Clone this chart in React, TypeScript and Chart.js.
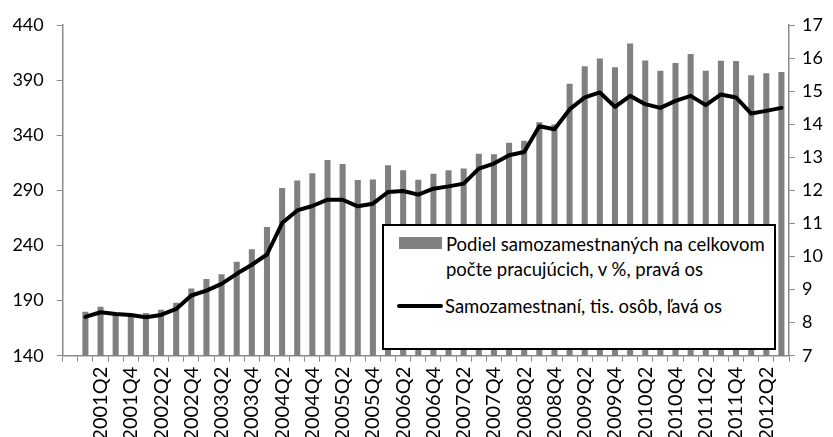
import React, { useEffect, useRef } from "react";
import { Chart, registerables } from "chart.js";

Chart.register(...registerables);

const categories = [
  "",
  "2001Q1", "2001Q2", "2001Q3", "2001Q4",
  "2002Q1", "2002Q2", "2002Q3", "2002Q4",
  "2003Q1", "2003Q2", "2003Q3", "2003Q4",
  "2004Q1", "2004Q2", "2004Q3", "2004Q4",
  "2005Q1", "2005Q2", "2005Q3", "2005Q4",
  "2006Q1", "2006Q2", "2006Q3", "2006Q4",
  "2007Q1", "2007Q2", "2007Q3", "2007Q4",
  "2008Q1", "2008Q2", "2008Q3", "2008Q4",
  "2009Q1", "2009Q2", "2009Q3", "2009Q4",
  "2010Q1", "2010Q2", "2010Q3", "2010Q4",
  "2011Q1", "2011Q2", "2011Q3", "2011Q4",
  "2012Q1", "2012Q2", "2012Q3",
];

// Podiel samozamestnaných na celkovom počte pracujúcich, v % (pravá os)
const shareOfEmployed = [
  null,
  8.33, 8.48, 8.27, 8.26,
  8.29, 8.39, 8.6, 9.03,
  9.32, 9.46, 9.84, 10.22,
  10.89, 12.07, 12.3, 12.52,
  12.92, 12.8, 12.31, 12.33,
  12.76, 12.61, 12.32, 12.5,
  12.61, 12.66, 13.11, 13.09,
  13.44, 13.5, 14.06, 13.99,
  15.22, 15.75, 15.99, 15.72,
  16.44, 15.93, 15.62, 15.85,
  16.12, 15.62, 15.92, 15.91,
  15.48, 15.54, 15.58,
];

// Samozamestnaní, tis. osôb (ľavá os)
const selfEmployed = [
  null,
  175.2, 179.4, 177.9, 177.0,
  174.9, 177.0, 182.4, 194.6,
  199.1, 205.2, 214.3, 222.5,
  231.8, 260.3, 271.8, 275.8,
  281.5, 281.5, 275.5, 277.9,
  288.5, 289.4, 286.1, 291.5,
  293.6, 296.1, 309.7, 314.3,
  321.8, 324.8, 348.2, 345.5,
  363.4, 374.3, 378.8, 365.7,
  375.7, 368.2, 364.8, 371.2,
  375.7, 367.3, 377.0, 374.3,
  359.7, 362.1, 364.8,
];

const leftTicks = [140, 190, 240, 290, 340, 390, 440];
const rightTicks = [7, 8, 9, 10, 11, 12, 13, 14, 15, 16, 17];

const legendShareLines = [
  "Podiel samozamestnaných na celkovom",
  "počte pracujúcich, v %, pravá os",
];
const legendCountLabel = "Samozamestnaní, tis. osôb, ľavá os";

const FONT = "Lato, 'Open Sans', sans-serif";
const AXIS_GRAY = "#8a8a8a";
const BAR_GRAY = "#808080";

export default function App() {
  const canvasRef = useRef<HTMLCanvasElement | null>(null);

  useEffect(() => {
    if (!canvasRef.current) return;
    const yFont = { family: FONT, size: 18 };
    const xFont = { family: FONT, size: 20 };
    const chart = new Chart(canvasRef.current, {
      type: "bar",
      data: {
        labels: categories,
        datasets: [
          {
            type: "line",
            label: legendCountLabel,
            data: selfEmployed as any,
            yAxisID: "yL",
            borderColor: "#000000",
            backgroundColor: "#000000",
            borderWidth: 4,
            pointRadius: 0,
            tension: 0,
            borderJoinStyle: "round",
            borderCapStyle: "round",
            order: 0,
          } as any,
          {
            type: "bar",
            label: legendShareLines.join(" "),
            data: shareOfEmployed as any,
            yAxisID: "yR",
            backgroundColor: BAR_GRAY,
            barPercentage: 0.4,
            categoryPercentage: 1,
            order: 1,
          } as any,
        ],
      },
      options: {
        animation: false,
        responsive: true,
        maintainAspectRatio: false,
        layout: { padding: { top: 25, left: 0, right: 0, bottom: 0 } },
        plugins: {
          legend: { display: false },
          tooltip: { enabled: false },
        },
        scales: {
          x: {
            grid: {
              offset: true,
              drawOnChartArea: false,
              drawTicks: true,
              tickLength: 6,
              color: AXIS_GRAY,
            },
            border: { color: AXIS_GRAY, width: 1.5 },
            ticks: {
              autoSkip: false,
              maxRotation: 90,
              minRotation: 90,
              padding: 5,
              color: "#000000",
              font: xFont,
              callback: (_v: any, i: number) => (i % 2 === 0 ? categories[i] : ""),
            },
            afterFit: (s: any) => {
              s.height = 81.3;
            },
          },
          yL: {
            type: "linear",
            position: "left",
            min: 140,
            max: 440,
            afterBuildTicks: (s: any) => {
              s.ticks = leftTicks.map((v) => ({ value: v }));
            },
            grid: {
              drawOnChartArea: false,
              drawTicks: true,
              tickLength: 6,
              color: AXIS_GRAY,
            },
            border: { color: AXIS_GRAY, width: 1.5 },
            ticks: { padding: 13, color: "#000000", font: yFont },
            afterFit: (s: any) => {
              s.width = 62.7;
            },
          },
          yR: {
            type: "linear",
            position: "right",
            min: 7,
            max: 17,
            afterBuildTicks: (s: any) => {
              s.ticks = rightTicks.map((v) => ({ value: v }));
            },
            grid: {
              drawOnChartArea: false,
              drawTicks: true,
              tickLength: 6,
              color: AXIS_GRAY,
            },
            border: { color: AXIS_GRAY, width: 1.5 },
            ticks: { padding: 7, color: "#000000", font: yFont },
            afterFit: (s: any) => {
              s.width = 44;
            },
          },
        },
      } as any,
    });
    return () => chart.destroy();
  }, []);

  const textStyle: React.CSSProperties = {
    position: "absolute",
    left: 62,
    fontFamily: FONT,
    fontSize: 18.5,
    lineHeight: "20px",
    color: "#000",
    whiteSpace: "nowrap",
  };

  return (
    <div
      style={{
        position: "absolute",
        left: 0,
        top: 0,
        width: 833,
        height: 437,
        background: "#fff",
        overflow: "hidden",
      }}
    >
      <canvas ref={canvasRef} style={{ width: "100%", height: "100%" }} />
      <div
        style={{
          position: "absolute",
          left: 382,
          top: 224,
          width: 390,
          height: 122,
          border: "2px solid #000",
          background: "#fff",
        }}
      >
        <div
          style={{
            position: "absolute",
            left: 15,
            top: 11,
            width: 43,
            height: 12,
            background: BAR_GRAY,
          }}
        />
        <div style={{ ...textStyle, top: 8 }}>{legendShareLines[0]}</div>
        <div style={{ ...textStyle, top: 33 }}>{legendShareLines[1]}</div>
        <div
          style={{
            position: "absolute",
            left: 13,
            top: 78,
            width: 46,
            height: 4,
            borderRadius: 2,
            background: "#000",
          }}
        />
        <div style={{ ...textStyle, top: 70, left: 61 }}>{legendCountLabel}</div>
      </div>
    </div>
  );
}
